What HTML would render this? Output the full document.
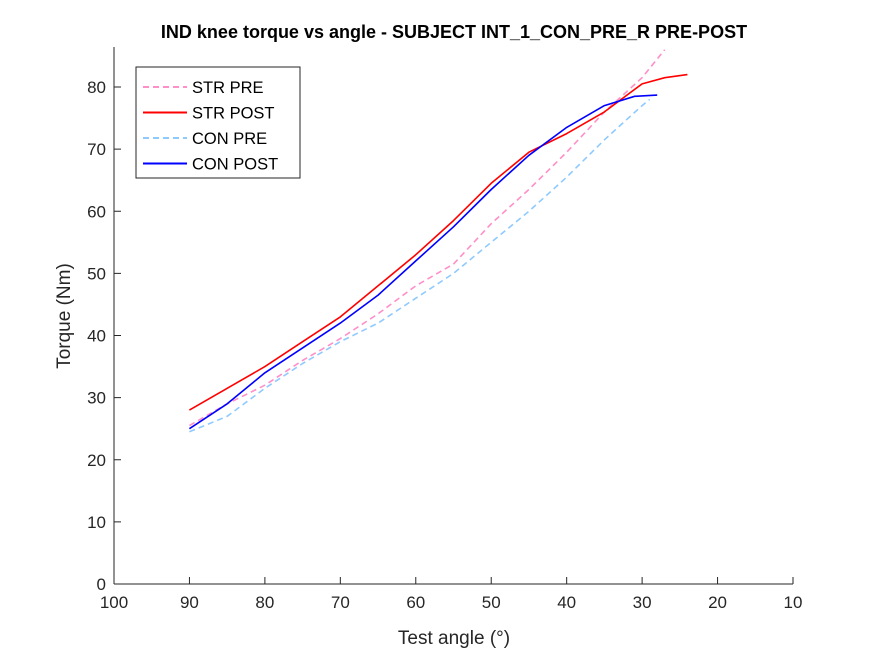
<!DOCTYPE html>
<html><head><meta charset="utf-8"><style>
body{margin:0;background:#fff;}
svg text{font-family:"Liberation Sans",Arial,sans-serif;}
</style></head><body>
<svg id="chart" width="875" height="656">
<rect width="875" height="656" fill="#fff"/>
<text x="454" y="38" text-anchor="middle" font-size="18" font-weight="bold" fill="#000">IND knee torque vs angle - SUBJECT INT_1_CON_PRE_R PRE-POST</text>
<g id="axes"></g>
<g id="series"></g>
<g id="legend"></g>
<text x="454" y="644" text-anchor="middle" font-size="19" fill="#262626">Test angle (°)</text>
<text transform="translate(70,316) rotate(-90)" text-anchor="middle" font-size="19" fill="#262626">Torque (Nm)</text>
</svg>
<script>
const xTicks=[100,90,80,70,60,50,40,30,20,10];
const yTicks=[0,10,20,30,40,50,60,70,80];
const strPreAngle=[90,85,80,75,70,65,60,55,50,45,40,35,30,27];
const strPreTorque=[25.5,29,32,36,39.5,43.5,48,51.5,58,63.5,69.5,76,81.5,86];
const strPostAngle=[90,85,80,75,70,65,60,55,50,45,40,35,30,27,24];
const strPostTorque=[28,31.5,35,39,43,48,53,58.5,64.5,69.5,72.5,76,80.5,81.5,82];
const conPreAngle=[90,85,80,75,70,65,60,55,50,45,40,35,30,29];
const conPreTorque=[24.5,27,31.5,35.5,39,42,46,50,55,60,65.5,71.5,77,78];
const conPostAngle=[90,85,80,75,70,65,60,55,50,45,40,35,31,28];
const conPostTorque=[25,29,34,38,42,46.5,52,57.5,63.5,69,73.5,77,78.5,78.7];
const L=114,R=793,T=47,B=584;
const xs=a=>L+(100-a)/90*(R-L);
const ys=v=>B-v*(B-87)/80;
const NS="http://www.w3.org/2000/svg";
function mk(tag,attrs,parent){const e=document.createElementNS(NS,tag);for(const k in attrs)e.setAttribute(k,attrs[k]);parent.appendChild(e);return e;}
const ax=document.getElementById('axes');
let e=mk('line',{x1:L,y1:B,x2:R,y2:B,stroke:'#262626','stroke-width':1},ax);


e=mk('line',{x1:L,y1:T,x2:L,y2:B,stroke:'#262626','stroke-width':1},ax);


xTicks.forEach(t=>{const x=xs(t);
 mk('line',{x1:x,y1:B,x2:x,y2:B-7,stroke:'#262626'},ax);
 const tx=mk('text',{x:x,y:B+24,'text-anchor':'middle','font-size':17,fill:'#262626'},ax);tx.textContent=t;
 
 });
yTicks.forEach(t=>{const y=ys(t);
 mk('line',{x1:L,y1:y,x2:L+7,y2:y,stroke:'#262626'},ax);
 const tx=mk('text',{x:L-8,y:y+6,'text-anchor':'end','font-size':17,fill:'#262626'},ax);tx.textContent=t;
 
 });
const sg=document.getElementById('series');
function line(a,v,color,dash,name){
 const d=a.map((x,i)=>(i?'L':'M')+xs(x).toFixed(1)+','+ys(v[i]).toFixed(1)).join(' ');
 const p=mk('path',{d:d,fill:'none',stroke:color,'stroke-width':1.6,'stroke-linejoin':'round'},sg);
 if(dash)p.setAttribute('stroke-dasharray','6,4');
 
 }
line(strPreAngle,strPreTorque,'#ff8fc8',true,'str-pre-line');
line(conPreAngle,conPreTorque,'#8fcaff',true,'con-pre-line');
line(strPostAngle,strPostTorque,'#ff0000',false,'str-post-line');
line(conPostAngle,conPostTorque,'#0000ff',false,'con-post-line');
const lg=document.getElementById('legend');
e=mk('rect',{x:136,y:67,width:164,height:111,fill:'#fff',stroke:'#262626'},lg);


[['STR PRE','#ff8fc8',true],['STR POST','#ff0000',false],['CON PRE','#8fcaff',true],['CON POST','#0000ff',false]].forEach((s,i)=>{
 const y=87+i*25.5;
 const l=mk('line',{x1:143,y1:y,x2:187,y2:y,stroke:s[1],'stroke-width':2},lg);
 if(s[2])l.setAttribute('stroke-dasharray','6,4');
 const t=mk('text',{x:192,y:y+6,'font-size':16.5,fill:'#000'},lg);t.textContent=s[0];
 
 });
</script>
</body></html>
